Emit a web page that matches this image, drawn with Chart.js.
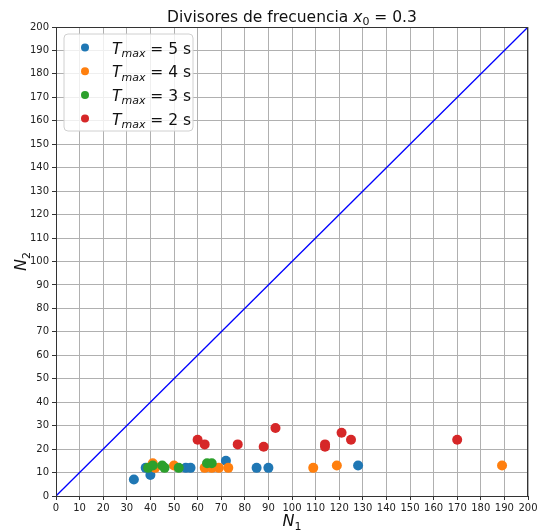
<!DOCTYPE html>
<html>
<head>
<meta charset="utf-8">
<script src="https://cdn.jsdelivr.net/npm/chart.js@4/dist/chart.umd.min.js"></script>
<style>
body{margin:0;background:#fff;}
canvas{display:block;}
</style>
</head>
<body>
<canvas id="chart" width="538" height="531"></canvas>
<script>
// N1 / N2 per Tmax
const n1_t5 = [33,38,40,55,57,72,85,90,128];
const n2_t5 = [7,12,9,12,12,15,12,12,13];
const n1_t4 = [41,42,50,63,66,69,73,109,119,189];
const n2_t4 = [14,12,13,12,12,12,12,12,13,13];
const n1_t3 = [39,41,45,46,52,64,66];
const n2_t3 = [12,13,13,12,12,14,14];
const n1_t2 = [60,63,77,88,93,114,114,121,125,170];
const n2_t2 = [24,22,22,21,29,22,21,27,24,24];
const tmaxLabels = ['5','4','3','2'];
const colors = ['#1f77b4','#ff7f0e','#2ca02c','#d62728'];
const diag = [0,200];

function pts(xs,ys){ return xs.map((x,i)=>({x:x,y:ys[i]})); }

Chart.defaults.font.family = 'DejaVu Sans';

// draw text made of pieces: [text, style]; 'n' normal, 'i' italic, 's' subscript, 'si' italic subscript
function mixedText(ctx, parts, x, y, size, align){
  const fontOf = p => {
    const it = (p[1]=='i' || p[1]=='si') ? 'italic ' : '';
    const sz = (p[1]=='s' || p[1]=='si') ? Math.round(size*0.7) : size;
    return it + sz + 'px DejaVu Sans';
  };
  let w = 0;
  parts.forEach(p=>{ ctx.font = fontOf(p); w += ctx.measureText(p[0]).width; });
  let cx = align=='center' ? x - w/2 : x;
  ctx.textBaseline = 'alphabetic';
  ctx.textAlign = 'left';
  parts.forEach(p=>{
    ctx.font = fontOf(p);
    const dy = (p[1]=='s' || p[1]=='si') ? size*0.22 : 0;
    ctx.fillText(p[0], cx, y + dy);
    cx += ctx.measureText(p[0]).width;
  });
}

const extras = {
  id:'extras',
  afterDraw(chart){
    const ctx = chart.ctx, a = chart.chartArea;
    ctx.save();
    ctx.strokeStyle = '#333';
    ctx.lineWidth = 1;
    ctx.strokeRect(a.left+0.5, a.top+0.5, a.right-a.left-1, a.bottom-a.top);
    ctx.fillStyle = '#111';
    mixedText(ctx, [['Divisores de frecuencia ','n'],['x','i'],['0','s'],[' = 0.3','n']], (a.left+a.right)/2, 22, 15.5, 'center');
    mixedText(ctx, [['N','i'],['1','s']], (a.left+a.right)/2, 526, 16, 'center');
    ctx.save();
    ctx.translate(26, (a.top+a.bottom)/2);
    ctx.rotate(-Math.PI/2);
    mixedText(ctx, [['N','i'],['2','s']], 0, 0, 16, 'center');
    ctx.restore();
    // legend
    const lx = 64, ly = 34, lw = 129, lh = 97, r = 4;
    ctx.beginPath();
    ctx.moveTo(lx+r, ly);
    ctx.arcTo(lx+lw, ly, lx+lw, ly+lh, r);
    ctx.arcTo(lx+lw, ly+lh, lx, ly+lh, r);
    ctx.arcTo(lx, ly+lh, lx, ly, r);
    ctx.arcTo(lx, ly, lx+lw, ly, r);
    ctx.closePath();
    ctx.fillStyle = 'rgba(255,255,255,0.8)';
    ctx.fill();
    ctx.strokeStyle = '#d0d0d0';
    ctx.stroke();
    tmaxLabels.forEach((t,i)=>{
      const yy = 47.5 + i*23.7;
      ctx.beginPath();
      ctx.arc(85, yy, 4, 0, Math.PI*2);
      ctx.fillStyle = colors[i];
      ctx.fill();
      ctx.fillStyle = '#111';
      mixedText(ctx, [['T','i'],['max','si'],[' = '+t+' s','n']], 112, yy+6, 15.5, 'left');
    });
    ctx.restore();
  }
};

const sets = [[n1_t5,n2_t5],[n1_t4,n2_t4],[n1_t3,n2_t3],[n1_t2,n2_t2]];
const datasets = sets.map((s,i)=>({
  type:'scatter',
  data: pts(s[0], s[1]),
  backgroundColor: colors[i],
  borderColor: colors[i],
  borderWidth: 0,
  pointRadius: 5,
  order: 5 - i
}));
datasets.push({
  type:'line',
  data: pts(diag, diag),
  borderColor:'#0000ff',
  borderWidth:1.3,
  pointRadius:0,
  fill:false,
  order: 10
});

new Chart(document.getElementById('chart'),{
  type:'scatter',
  data:{datasets:datasets},
  options:{
    responsive:false,
    animation:false,
    layout:{padding:{top:27,right:10,left:0,bottom:0}},
    plugins:{legend:{display:false},tooltip:{enabled:false}},
    scales:{
      x:{
        type:'linear', min:0, max:200,
        afterFit: s => { s.height = 35; s.paddingRight = 0; s.paddingLeft = 0; },
        ticks:{stepSize:10, autoSkip:false, maxRotation:0, color:'#222', font:{size:10}, padding:2},
        grid:{color:'#b0b0b0', tickColor:'#333', tickLength:4},
        border:{color:'#333'}
      },
      y:{
        type:'linear', min:0, max:200,
        afterFit: s => { s.width = 56; s.paddingTop = 0; s.paddingBottom = 0; },
        ticks:{stepSize:10, autoSkip:false, color:'#222', font:{size:10}, padding:3},
        grid:{color:'#b0b0b0', tickColor:'#333', tickLength:4},
        border:{color:'#333'}
      }
    }
  },
  plugins:[extras]
});
</script>
</body>
</html>
